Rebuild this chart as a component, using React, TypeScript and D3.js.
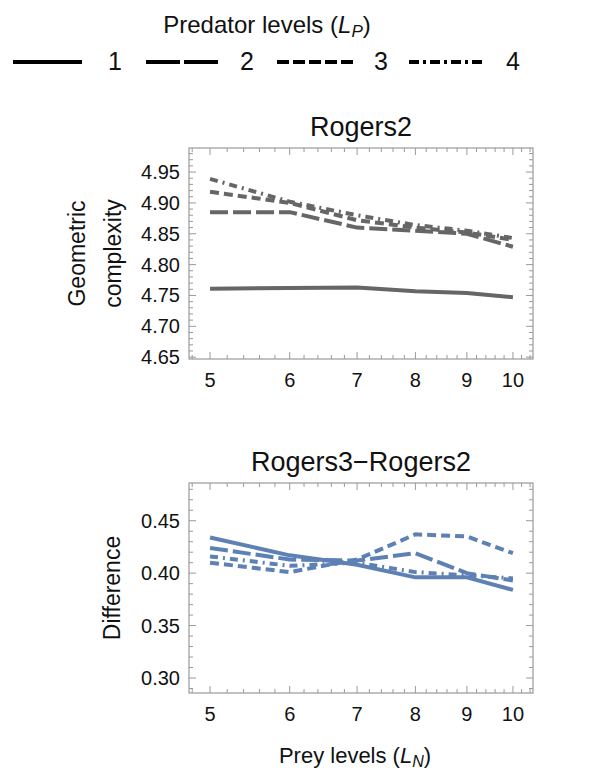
import React from 'react';
import * as d3 from 'd3';

const preyLevels = [5, 6, 7, 8, 9, 10];
const predatorLabels = ['1', '2', '3', '4'];

const rogers2P1 = [4.761, 4.762, 4.763, 4.757, 4.754, 4.747];
const rogers2P2 = [4.885, 4.885, 4.860, 4.855, 4.850, 4.829];
const rogers2P3 = [4.918, 4.900, 4.872, 4.860, 4.852, 4.840];
const rogers2P4 = [4.939, 4.902, 4.880, 4.864, 4.855, 4.843];

const diffP1 = [0.434, 0.417, 0.408, 0.396, 0.396, 0.384];
const diffP2 = [0.424, 0.413, 0.412, 0.419, 0.400, 0.393];
const diffP3 = [0.410, 0.401, 0.413, 0.437, 0.435, 0.419];
const diffP4 = [0.416, 0.407, 0.410, 0.401, 0.398, 0.395];

const topYTicks = [4.65, 4.70, 4.75, 4.80, 4.85, 4.90, 4.95];
const bottomYTicks = [0.30, 0.35, 0.40, 0.45];

const FONT = '"Liberation Sans", Arial, sans-serif';
const plotDashes = ['none', '18,5', '9,5', '8,5,2,5'];
const legendDashes = ['none', '34,4', '12,4', '10,4,3,4'];

const X0 = 189, X1 = 533;

type PanelProps = {
  top: number; bottom: number; domain: [number, number];
  series: number[][]; ticks: number[]; color: string; title: string;
  ylabel: string[]; minorStep: number;
};

function Panel({ top, bottom, domain, series, ticks, color, title, ylabel, minorStep }: PanelProps) {
  const x = d3.scaleLog().domain([4.765, 10.47]).range([X0, X1]);
  const y = d3.scaleLinear().domain(domain).range([bottom, top]);
  const line = d3.line<number>().x((_, i) => x(preyLevels[i])).y((d) => y(d));
  const xMinor = d3.range(4.8, 10.45, 0.2).filter((v) => Math.abs(v - Math.round(v)) > 0.01);
  const yMinor = d3.range(Math.ceil(domain[0] / minorStep), Math.floor(domain[1] / minorStep) + 1)
    .map((k) => k * minorStep)
    .filter((v) => !ticks.some((t) => Math.abs(t - v) < minorStep / 10));
  const tc = '#9a9a9a';
  const cx = (X0 + X1) / 2;
  const cy = (top + bottom) / 2;
  return (
    <g>
      <text x={cx} y={top - 12} textAnchor="middle" fontSize={27} fontFamily={FONT} fill="#111">{title}</text>
      {series.map((s, i) => (
        <path key={i} d={line(s) || ''} fill="none" stroke={color} strokeWidth={4}
          strokeDasharray={plotDashes[i]} strokeLinejoin="round" />
      ))}
      <rect x={X0} y={top} width={X1 - X0} height={bottom - top} fill="none" stroke={tc} strokeWidth={1.2} />
      {preyLevels.map((v) => (
        <g key={'xm' + v}>
          <line x1={x(v)} x2={x(v)} y1={bottom} y2={bottom - 7} stroke={tc} />
          <line x1={x(v)} x2={x(v)} y1={top} y2={top + 7} stroke={tc} />
          <text x={x(v)} y={bottom + 28} textAnchor="middle" fontSize={20} fontFamily={FONT} fill="#111">{v}</text>
        </g>
      ))}
      {xMinor.map((v, i) => (
        <g key={'xn' + i}>
          <line x1={x(v)} x2={x(v)} y1={bottom} y2={bottom - 4} stroke={tc} />
          <line x1={x(v)} x2={x(v)} y1={top} y2={top + 4} stroke={tc} />
        </g>
      ))}
      {ticks.map((v) => (
        <g key={'ym' + v}>
          <line x1={X0} x2={X0 + 7} y1={y(v)} y2={y(v)} stroke={tc} />
          <line x1={X1} x2={X1 - 7} y1={y(v)} y2={y(v)} stroke={tc} />
          <text x={X0 - 9} y={y(v) + 7} textAnchor="end" fontSize={20} fontFamily={FONT} fill="#111">{v.toFixed(2)}</text>
        </g>
      ))}
      {yMinor.map((v, i) => (
        <g key={'yn' + i}>
          <line x1={X0} x2={X0 + 4} y1={y(v)} y2={y(v)} stroke={tc} />
          <line x1={X1} x2={X1 - 4} y1={y(v)} y2={y(v)} stroke={tc} />
        </g>
      ))}
      {ylabel.map((t, i) => (
        <text key={t} transform={`translate(${ylabel.length === 1 ? 120 : 85 + i * 36},${cy}) rotate(-90)`}
          textAnchor="middle" fontSize={23} fontFamily={FONT} fill="#111">{t}</text>
      ))}
    </g>
  );
}

export default function App() {
  const legendX = [13, 146, 277, 409];
  const legendW = [69, 72, 76, 74];
  const labelX = [115, 247, 381, 513];
  return (
    <svg width={592} height={773} style={{ position: 'absolute', left: 0, top: 0, background: '#fff' }}>
      <text x={267} y={33} textAnchor="middle" fontSize={24} fontFamily={FONT} fill="#111">
        Predator levels (<tspan fontStyle="italic">L</tspan><tspan fontStyle="italic" fontSize={17} dy={4}>P</tspan><tspan dy={-4}>)</tspan>
      </text>
      {predatorLabels.map((lab, i) => (
        <g key={lab}>
          <line x1={legendX[i]} x2={legendX[i] + legendW[i]} y1={62} y2={62} stroke="#000" strokeWidth={3.8}
            strokeDasharray={legendDashes[i]} />
          <text x={labelX[i]} y={70} textAnchor="middle" fontSize={25} fontFamily={FONT} fill="#111">{lab}</text>
        </g>
      ))}
      <Panel top={148} bottom={359} domain={[4.647, 4.989]} series={[rogers2P1, rogers2P2, rogers2P3, rogers2P4]}
        ticks={topYTicks} color="#666666" title="Rogers2" ylabel={['Geometric', 'complexity']} minorStep={0.01} />
      <Panel top={483} bottom={693} domain={[0.2857, 0.486]} series={[diffP1, diffP2, diffP3, diffP4]}
        ticks={bottomYTicks} color="#5E81B5" title="Rogers3−Rogers2" ylabel={['Difference']} minorStep={0.01} />
      <text x={355} y={763} textAnchor="middle" fontSize={22} fontFamily={FONT} fill="#111">
        Prey levels (<tspan fontStyle="italic">L</tspan><tspan fontStyle="italic" fontSize={16} dy={4}>N</tspan><tspan dy={-4}>)</tspan>
      </text>
    </svg>
  );
}
